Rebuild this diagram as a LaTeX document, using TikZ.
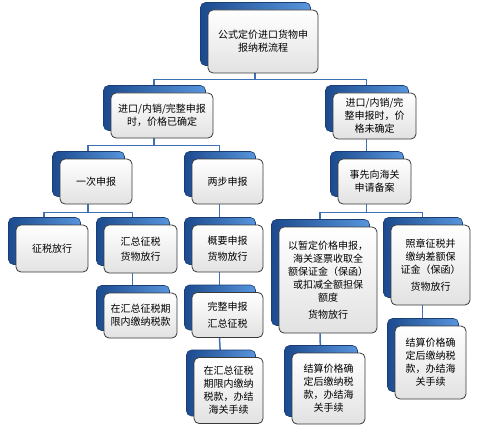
\documentclass[tikz,border=0pt]{standalone}
\usepackage{fontspec}
\newfontfamily\cjk{Noto Sans CJK SC}
\usetikzlibrary{shadows,backgrounds}
\definecolor{bkL}{HTML}{1C4A8E}
\definecolor{bkR}{HTML}{5795DC}
\definecolor{bkD}{HTML}{1B3E72}
\definecolor{lnC}{HTML}{3F6FB5}
\definecolor{bdC}{HTML}{3A3A3A}
\definecolor{grC}{HTML}{E2E2E2}
\begin{document}
\begin{tikzpicture}[x=1pt,y=-1pt,
  bx/.style={draw=bdC, line width=0.8pt, rounded corners=5pt,
    top color=white, bottom color=grC, align=center, inner sep=0pt,
    font=\cjk\fontsize{10}{13}\selectfont, text=black,
    general shadow={shadow xshift=-7.5pt, shadow yshift=7.5pt, draw=bkD,
      line width=0.6pt, left color=bkL, right color=bkR}},
  conn/.style={draw=lnC, line width=1.5pt}]
\useasboundingbox (0,0) rectangle (500,433);
\node[bx, minimum width=110pt, minimum height=63pt] (top) at (263,41.5) {公式定价进口货物申\\报纳税流程};
\node[bx, minimum width=102pt, minimum height=45pt] (L1) at (162,115.5) {进口/内销/完整申报\\时，价格已确定};
\node[bx, minimum width=83pt, minimum height=46pt] (R1) at (374.5,116) {进口/内销/完\\整申报时，价\\格未确定};
\node[bx, minimum width=72pt, minimum height=45pt] (A) at (96,181.5) {一次申报};
\node[bx, minimum width=71pt, minimum height=45pt] (B) at (227.5,181.5) {两步申报};
\node[bx, minimum width=73pt, minimum height=45pt] (C) at (374.5,181.5) {事先向海关\\申请备案};
\node[bx, minimum width=72pt, minimum height=47pt] (A1) at (52,248.5) {征税放行};
\node[bx, minimum width=73pt, minimum height=48pt] (A2) at (140.5,249) {汇总征税\\[2pt]货物放行};
\node[bx, minimum width=73pt, minimum height=45pt] (A3) at (140.5,315.5) {在汇总征税期\\限内缴纳税款};
\node[bx, minimum width=71pt, minimum height=47pt] (B1) at (227.5,248.5) {概要申报\\[3pt]货物放行};
\node[bx, minimum width=71pt, minimum height=45pt] (B2) at (227.5,315) {完整申报\\[4pt]汇总征税};
\node[bx, minimum width=69pt, minimum height=66pt] (B3) at (228.5,390.5) {在汇总征税\\期限内缴纳\\税款，办结\\海关手续};
\node[bx, minimum width=98pt, minimum height=106pt] (C1) at (328,280) {以暂定价格申报，\\海关逐票收取全\\额保证金（保函）\\或扣减全额担保\\额度\\[4pt]货物放行};
\node[bx, minimum width=79pt, minimum height=80pt] (C2) at (430.5,265) {照章征税并\\缴纳差额保\\证金（保函）\\[4pt]货物放行};
\node[bx, minimum width=73pt, minimum height=71pt] (C3) at (328.5,388.5) {结算价格确\\定后缴纳税\\款，办结海\\关手续};
\node[bx, minimum width=71pt, minimum height=73pt] (C4) at (430.5,362.5) {结算价格确\\定后缴纳税\\款，办结海\\关手续};
\begin{scope}[on background layer]
\fill[white] (0,0) rectangle (500,433);
\draw[conn] ([xshift=-8pt]top.south) -- ++(0,6) -| ([xshift=-8pt]L1.north);
\draw[conn] ([xshift=-8pt]top.south) -- ++(0,6) -| ([xshift=-8pt]R1.north);
\draw[conn] ([xshift=-8pt]L1.south) -- ++(0,7) -| ([xshift=-8pt]A.north);
\draw[conn] ([xshift=-8pt]L1.south) -- ++(0,7) -| ([xshift=-8pt]B.north);
\draw[conn] ([xshift=-8pt]R1.south) -- ([xshift=-8pt]C.north);
\draw[conn] ([xshift=-8pt]A.south) -- ++(0,8) -| ([xshift=-8pt]A1.north);
\draw[conn] ([xshift=-8pt]A.south) -- ++(0,8) -| ([xshift=-8pt]A2.north);
\draw[conn] ([xshift=-8pt]A2.south) -- ([xshift=-8pt]A3.north);
\draw[conn] ([xshift=-8pt]B.south) -- ([xshift=-8pt]B1.north);
\draw[conn] ([xshift=-8pt]B1.south) -- ([xshift=-8pt]B2.north);
\draw[conn] ([xshift=-8pt]B2.south) -- ([xshift=-8pt]B3.north);
\draw[conn] ([xshift=-8pt]C.south) -- ++(0,8) -| ([xshift=-8pt]C1.north);
\draw[conn] ([xshift=-8pt]C.south) -- ++(0,8) -| ([xshift=-8pt]C2.north);
\draw[conn] ([xshift=-8pt]C1.south) -- ([xshift=-8pt]C3.north);
\draw[conn] ([xshift=-8pt]C2.south) -- ([xshift=-8pt]C4.north);
\end{scope}
\end{tikzpicture}
\end{document}
